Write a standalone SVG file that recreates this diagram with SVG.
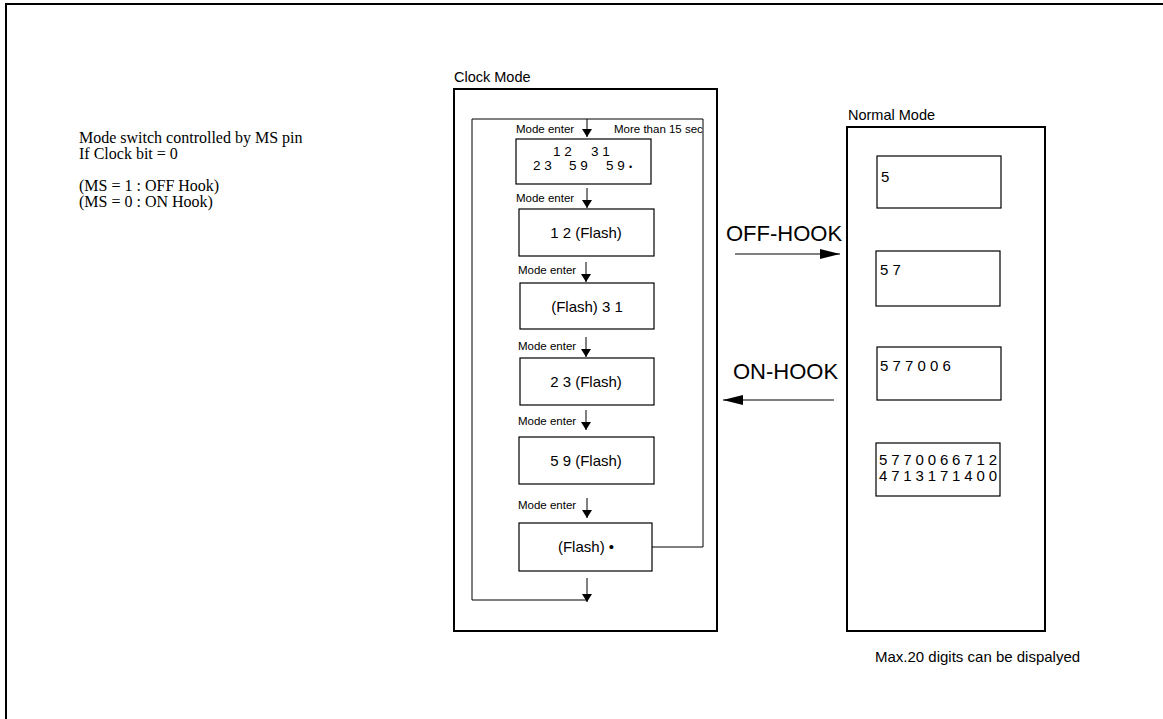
<svg xmlns="http://www.w3.org/2000/svg" width="1163" height="719" viewBox="0 0 1163 719">
<defs>
<style>
.frame{fill:none;stroke:#000;stroke-width:2}
.box{fill:#fff;stroke:#000;stroke-width:1.2}
.loop{fill:none;stroke:#000;stroke-width:1}
.lbl{font-family:"Liberation Sans",Arial,sans-serif;font-size:14.5px;fill:#000}
.me{font-family:"Liberation Sans",Arial,sans-serif;font-size:11.5px;fill:#000}
.bt{font-family:"Liberation Sans",Arial,sans-serif;font-size:15px;fill:#000}
.b1{font-family:"Liberation Sans",Arial,sans-serif;font-size:13.5px;fill:#000}
.nt{font-family:"Liberation Sans",Arial,sans-serif;font-size:15px;fill:#000}
.big{font-family:"Liberation Sans",Arial,sans-serif;font-size:22px;fill:#000}
.serif{font-family:"Liberation Serif","Times New Roman",serif;font-size:16px;fill:#000}
</style>
<marker id="ah" markerWidth="8" markerHeight="14" refX="8" refY="7" orient="auto" markerUnits="userSpaceOnUse">
<path d="M0,2 L8,7 L0,12 Z" fill="#000"/>
</marker>
<marker id="ahb" markerWidth="20" markerHeight="12" refX="20" refY="6" orient="auto" markerUnits="userSpaceOnUse">
<path d="M0,1 L20,6 L0,11 Z" fill="#000"/>
</marker>
</defs>
<rect width="1163" height="719" fill="#fff"/>
<path class="frame" d="M6,720 V4 H1164"/>

<g id="notes">
<text class="serif" x="79" y="143">Mode switch controlled by MS pin</text>
<text class="serif" x="79" y="159">If Clock bit = 0</text>
<text class="serif" x="79" y="191">(MS = 1 : OFF Hook)</text>
<text class="serif" x="79" y="207">(MS = 0 : ON Hook)</text>
</g>

<g id="clock-mode">
<text class="lbl" x="454" y="82">Clock Mode</text>
<rect class="frame" x="454" y="89" width="263" height="542"/>
</g>

<g id="connectors">
<path class="loop" d="M587,600 H472 V119 H703 V547 H652"/>
<line class="loop" x1="587" y1="119" x2="587" y2="137" marker-end="url(#ah)"/>
<line class="loop" x1="587" y1="188" x2="587" y2="208" marker-end="url(#ah)"/>
<line class="loop" x1="586" y1="262" x2="586" y2="282" marker-end="url(#ah)"/>
<line class="loop" x1="586" y1="337" x2="586" y2="357" marker-end="url(#ah)"/>
<line class="loop" x1="586" y1="410" x2="586" y2="430" marker-end="url(#ah)"/>
<line class="loop" x1="587" y1="498" x2="587" y2="518" marker-end="url(#ah)"/>
<line class="loop" x1="587" y1="578" x2="587" y2="602" marker-end="url(#ah)"/>
<line stroke="#000" stroke-width="1.2" x1="735" y1="254" x2="840" y2="254" marker-end="url(#ahb)"/>
<line stroke="#000" stroke-width="1.2" x1="834" y1="400" x2="723" y2="400" marker-end="url(#ahb)"/>
</g>

<g id="edge-labels">
<text class="me" x="516" y="133">Mode enter</text>
<text class="me" x="614" y="133">More than 15 sec</text>
<text class="me" x="516" y="202">Mode enter</text>
<text class="me" x="518" y="274">Mode enter</text>
<text class="me" x="518" y="350">Mode enter</text>
<text class="me" x="518" y="425">Mode enter</text>
<text class="me" x="518" y="509">Mode enter</text>
<text class="big" x="726" y="241">OFF-HOOK</text>
<text class="big" x="733" y="379">ON-HOOK</text>
</g>

<g id="state-1">
<rect class="box" x="516" y="139" width="135" height="45"/>
<text class="b1" y="156"><tspan x="553">1 2</tspan><tspan x="591">3 1</tspan></text>
<text class="b1" y="170"><tspan x="533">2 3</tspan><tspan x="569">5 9</tspan><tspan x="606">5 9</tspan><tspan x="629" font-size="9">•</tspan></text>
</g>
<g id="state-2">
<rect class="box" x="519" y="209" width="135" height="47"/>
<text class="bt" x="586" y="238" text-anchor="middle">1 2 (Flash)</text>
</g>
<g id="state-3">
<rect class="box" x="520" y="283" width="134" height="46"/>
<text class="bt" x="587" y="312" text-anchor="middle">(Flash) 3 1</text>
</g>
<g id="state-4">
<rect class="box" x="520" y="358" width="134" height="47"/>
<text class="bt" x="586" y="387" text-anchor="middle">2 3 (Flash)</text>
</g>
<g id="state-5">
<rect class="box" x="519" y="437" width="135" height="47"/>
<text class="bt" x="586" y="466" text-anchor="middle">5 9 (Flash)</text>
</g>
<g id="state-6">
<rect class="box" x="519" y="523" width="133" height="48"/>
<text class="bt" x="586" y="552" text-anchor="middle">(Flash) •</text>
</g>

<g id="normal-mode">
<text class="lbl" x="848" y="120">Normal Mode</text>
<rect class="frame" x="847" y="127" width="198" height="504"/>
</g>
<g id="display-1">
<rect class="box" x="877" y="156" width="124" height="52"/>
<text class="nt" x="881" y="182">5</text>
</g>
<g id="display-2">
<rect class="box" x="876" y="251" width="124" height="55"/>
<text class="nt" x="880" y="275">5 7</text>
</g>
<g id="display-3">
<rect class="box" x="877" y="347" width="124" height="53"/>
<text class="nt" x="880" y="371">5 7 7 0 0 6</text>
</g>
<g id="display-4">
<rect class="box" x="876" y="443" width="124" height="53"/>
<text class="nt" x="879" y="465" textLength="118">5 7 7 0 0 6 6 7 1 2</text>
<text class="nt" x="879" y="481" textLength="118">4 7 1 3 1 7 1 4 0 0</text>
</g>
<text class="lbl" x="875" y="662" style="font-size:15px">Max.20 digits can be dispalyed</text>
</svg>
